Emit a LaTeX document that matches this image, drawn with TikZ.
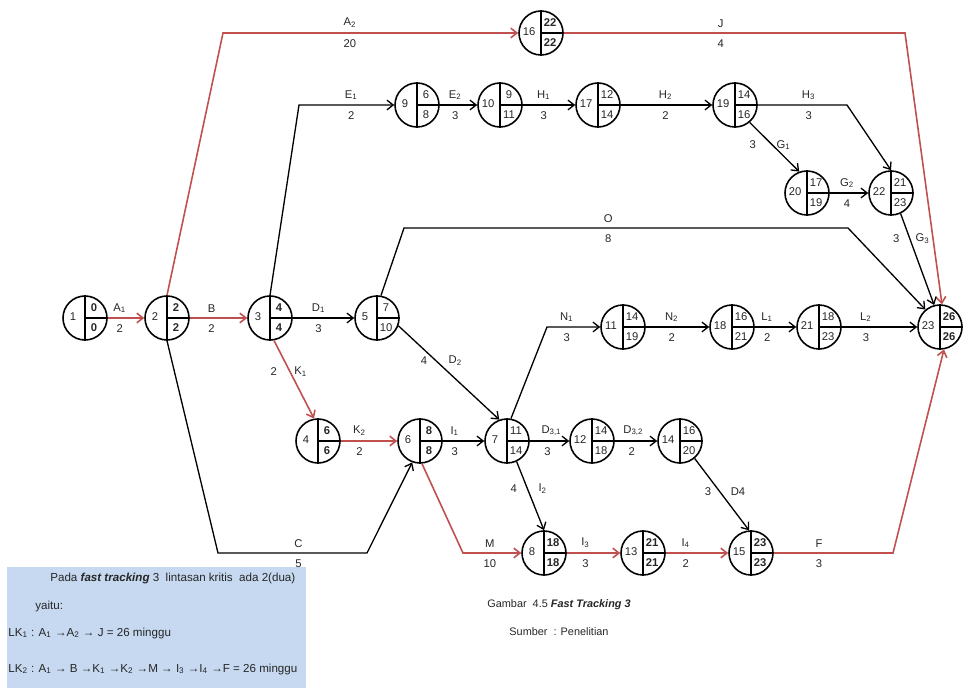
\documentclass[tikz,border=0pt]{standalone}
\usepackage{fontspec}
\setmainfont{Liberation Sans}
\usetikzlibrary{arrows.meta}
\definecolor{critred}{RGB}{192,80,77}
\definecolor{notefill}{RGB}{198,217,241}
\newcommand{\lblfont}{\fontsize{6.4}{7.6}\selectfont}
\newcommand{\notefont}{\fontsize{6.6}{7.8}\selectfont}
\newcommand{\capfont}{\fontsize{6.2}{7.4}\selectfont}
\tikzset{
  evt/.style={circle, draw=black, line width=0.9pt, minimum size=8.8mm, inner sep=0pt},
  evtline/.style={draw=black, line width=0.9pt},
  evtnum/.style={font=\lblfont, inner sep=0pt, text=black!85},
  act/.style={-{Straight Barb[length=3.5pt,width=5.5pt]}, draw=black, line width=0.75pt},
  crit/.style={act, draw=critred, line width=0.9pt},
  lup/.style={above=2.5pt, font=\lblfont, inner sep=0pt, text=black!85},
  ldn/.style={below=3.5pt, font=\lblfont, inner sep=0pt, text=black!85},
  lleft/.style={left=#1, font=\lblfont, inner sep=0pt, text=black!85},
  lleft/.default=5pt,
  lright/.style={right=#1, font=\lblfont, inner sep=0pt, text=black!85},
  lright/.default=4pt,
  notetext/.style={font=\notefont, inner sep=0pt, anchor=west, text=black!85},
  captext/.style={font=\capfont, inner sep=0pt, text=black!85},
}
% event circle: name, x, y, number, earliest, latest
\newcommand{\evnode}[6]{%
  \node[evt] (#1) at (#2,#3) {};
  \draw[evtline] (#1.north) -- (#1.south) (#1.center) -- (#1.east);
  \node[evtnum] (#1-id) at ([shift={(-12,-1)}]#1.center) {#4};
  \node[evtnum] (#1-es) at ([shift={(9,-10)}]#1.center) {#5};
  \node[evtnum] (#1-ls) at ([shift={(9,10)}]#1.center) {#6};}
\newcommand{\crnode}[6]{\evnode{#1}{#2}{#3}{#4}{\textbf{#5}}{\textbf{#6}}}

\begin{document}
\begin{tikzpicture}[x=0.2mm, y=-0.2mm]
  \useasboundingbox (0,0) rectangle (964,688);

  \fill[notefill] (7,567) rectangle (306,688);

  \crnode{n1}{85}{318}{1}{0}{0}
  \crnode{n2}{167}{318}{2}{2}{2}
  \crnode{n3}{270}{318}{3}{4}{4}
  \evnode{n5}{377}{318}{5}{7}{10}
  \crnode{n16}{541}{33}{16}{22}{22}
  \evnode{n9}{417}{105}{9}{6}{8}
  \evnode{n10}{500}{105}{10}{9}{11}
  \evnode{n17}{598}{105}{17}{12}{14}
  \evnode{n19}{735}{105}{19}{14}{16}
  \evnode{n20}{807}{193}{20}{17}{19}
  \evnode{n22}{891}{193}{22}{21}{23}
  \evnode{n11}{623}{327}{11}{14}{19}
  \evnode{n18}{732}{327}{18}{16}{21}
  \evnode{n21}{819}{327}{21}{18}{23}
  \crnode{n23}{940}{327}{23}{26}{26}
  \crnode{n4}{318}{441}{4}{6}{6}
  \crnode{n6}{420}{441}{6}{8}{8}
  \evnode{n7}{507}{441}{7}{11}{14}
  \evnode{n12}{592}{441}{12}{14}{18}
  \evnode{n14}{680}{441}{14}{16}{20}
  \crnode{n8}{544}{553}{8}{18}{18}
  \crnode{n13}{643}{553}{13}{21}{21}
  \crnode{n15}{751}{553}{15}{23}{23}

  % lintasan kritis
  \draw[crit] (n1.east) -- node[lup,pos=0.33]{A\textsubscript{1}} node[ldn,pos=0.33]{2} (n2.west);
  \draw[crit] (n2.east) -- node[lup,pos=0.38]{B} node[ldn,pos=0.38]{2} (n3.west);
  \draw[crit] (n2.north) -- (223,33) -- node[lup,pos=0.43]{A\textsubscript{2}} node[ldn,pos=0.43]{20} (n16.west);
  \draw[crit] (n16.east) -- node[lup,pos=0.46]{J} node[ldn,pos=0.46]{4} (905,33) -- (n23.85);
  \draw[crit] (n3.280) -- node[lleft=7pt,pos=0.4]{2} node[lright=2pt,pos=0.4]{K\textsubscript{1}} (n4.100);
  \draw[crit] (n4.east) -- node[lup,pos=0.33]{K\textsubscript{2}} node[ldn,pos=0.33]{2} (n6.west);
  \draw[crit] (n6.275) -- (463,553) -- node[lup,pos=0.46]{M} node[ldn,pos=0.46]{10} (n8.west);
  \draw[crit] (n8.east) -- node[lup,pos=0.35]{I\textsubscript{3}} node[ldn,pos=0.35]{3} (n13.west);
  \draw[crit] (n13.east) -- node[lup,pos=0.32]{I\textsubscript{4}} node[ldn,pos=0.32]{2} (n15.west);
  \draw[crit] (n15.east) -- node[lup,pos=0.38]{F} node[ldn,pos=0.38]{3} (893,553) -- (n23.280);

  % kegiatan lain
  \draw[act] (n3.east) -- node[lup,pos=0.42]{D\textsubscript{1}} node[ldn,pos=0.42]{3} (n5.west);
  \draw[act] (n2.south) -- (218,553) -- node[lup,pos=0.54]{C} node[ldn,pos=0.54]{5} (367,553) -- (n6.250);
  \draw[act] (n3.north) -- (299,105) -- node[lup,pos=0.55]{E\textsubscript{1}} node[ldn,pos=0.55]{2} (n9.west);
  \draw[act] (n9.east) -- node[lup,pos=0.41]{E\textsubscript{2}} node[ldn,pos=0.41]{3} (n10.west);
  \draw[act] (n10.east) -- node[lup,pos=0.4]{H\textsubscript{1}} node[ldn,pos=0.4]{3} (n17.west);
  \draw[act] (n17.east) -- node[lup,pos=0.49]{H\textsubscript{2}} node[ldn,pos=0.49]{2} (n19.west);
  \draw[act] (n19.east) -- node[lup,pos=0.57]{H\textsubscript{3}} node[ldn,pos=0.57]{3} (847,105) -- (n22.north);
  \draw[act] (n19.310) -- node[lleft=9pt,pos=0.46]{3} node[lright=2pt,pos=0.46]{G\textsubscript{1}} (n20.110);
  \draw[act] (n20.east) -- node[lup,pos=0.45]{G\textsubscript{2}} node[ldn,pos=0.45]{4} (n22.west);
  \draw[act] (n22.295) -- node[lleft=5.5pt,pos=0.27]{3} node[lright=3pt,pos=0.27]{G\textsubscript{3}} (n23.105);
  \draw[act] (n5.80) -- (404,228) -- node[lup,pos=0.46]{O} node[ldn,pos=0.46]{8} (848,228) -- (n23.130);
  \draw[act] (n5.-20) -- node[lleft=4.5pt,pos=0.37]{4} node[lright=7pt,pos=0.37]{D\textsubscript{2}} (n7.110);
  \draw[act] (n7.80) -- (547,327) -- node[lup,pos=0.37]{N\textsubscript{1}} node[ldn,pos=0.37]{3} (n11.west);
  \draw[act] (n11.east) -- node[lup,pos=0.41]{N\textsubscript{2}} node[ldn,pos=0.41]{2} (n18.west);
  \draw[act] (n18.east) -- node[lup,pos=0.3]{L\textsubscript{1}} node[ldn,pos=0.3]{2} (n21.west);
  \draw[act] (n21.east) -- node[lup,pos=0.32]{L\textsubscript{2}} node[ldn,pos=0.32]{3} (n23.west);
  \draw[act] (n6.east) -- node[lup,pos=0.29]{I\textsubscript{1}} node[ldn,pos=0.29]{3} (n7.west);
  \draw[act] (n7.east) -- node[lup,pos=0.55]{D\textsubscript{3,1}} node[ldn,pos=0.45]{3} (n12.west);
  \draw[act] (n12.east) -- node[lup,pos=0.44]{D\textsubscript{3,2}} node[ldn,pos=0.4]{2} (n14.west);
  \draw[act] (n7.295) -- node[lleft=5.5pt,pos=0.39]{4} node[lright=6pt,pos=0.39]{I\textsubscript{2}} (n8.north);
  \draw[act] (n14.310) -- node[lleft=4.5pt,pos=0.46]{3} node[lright=6pt,pos=0.46]{D4} (n15.95);

  \node[notetext] (pada) at (50,578) {Pada \textbf{\textit{fast tracking}} 3\ \ lintasan kritis\ \ ada 2(dua)};
  \node[notetext] (yaitu) at (35,606) {yaitu:};
  \node[notetext] (lk1) at (8,633) {LK\textsubscript{1} : A\textsubscript{1} →A\textsubscript{2} → J = 26 minggu};
  \node[notetext] (lk2) at (8,669) {LK\textsubscript{2} : A\textsubscript{1} → B →K\textsubscript{1} →K\textsubscript{2} →M → I\textsubscript{3} →I\textsubscript{4} →F = 26 minggu};

  \node[captext] (cap) at (559,605) {Gambar\ \ 4.5 \textbf{\textit{Fast Tracking 3}}};
  \node[captext] (src) at (559,632) {Sumber\ \ : Penelitian};
\end{tikzpicture}
\end{document}
